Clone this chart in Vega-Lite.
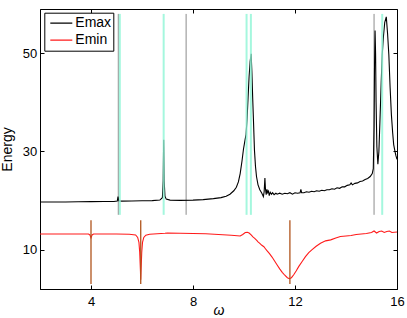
{
  "$schema": "https://vega.github.io/schema/vega-lite/v6.json",
  "width": 357,
  "height": 280,
  "autosize": {"type": "none"},
  "padding": {"left": 40, "top": 9, "right": 10, "bottom": 29},
  "background": "white",
  "config": {
    "font": "Liberation Sans",
    "view": {"stroke": "black", "strokeWidth": 1},
    "axis": {
      "grid": false,
      "domainColor": "black",
      "tickColor": "black",
      "labelColor": "black",
      "titleColor": "black",
      "labelFont": "Liberation Sans",
      "titleFont": "Liberation Sans",
      "labelFontSize": 13,
      "titleFontSize": 14,
      "titleFontWeight": "normal",
      "tickSize": -4,
      "domainWidth": 1,
      "tickWidth": 1
    },
    "legend": {
      "labelFont": "Liberation Sans",
      "labelFontSize": 14,
      "labelColor": "black"
    }
  },
  "datasets": {
    "curves": [
      {"w": 2.0, "E": 19.7, "series": "Emax"},
      {"w": 2.5, "E": 19.7, "series": "Emax"},
      {"w": 3.0, "E": 19.72, "series": "Emax"},
      {"w": 3.5, "E": 19.75, "series": "Emax"},
      {"w": 4.0, "E": 19.78, "series": "Emax"},
      {"w": 4.5, "E": 19.8, "series": "Emax"},
      {"w": 4.9, "E": 19.82, "series": "Emax"},
      {"w": 5.03, "E": 19.9, "series": "Emax"},
      {"w": 5.06, "E": 20.8, "series": "Emax"},
      {"w": 5.09, "E": 19.95, "series": "Emax"},
      {"w": 5.2, "E": 19.88, "series": "Emax"},
      {"w": 5.6, "E": 19.9, "series": "Emax"},
      {"w": 6.0, "E": 19.95, "series": "Emax"},
      {"w": 6.4, "E": 20.0, "series": "Emax"},
      {"w": 6.7, "E": 20.1, "series": "Emax"},
      {"w": 6.8, "E": 20.6, "series": "Emax"},
      {"w": 6.83, "E": 24.0, "series": "Emax"},
      {"w": 6.85, "E": 32.4, "series": "Emax"},
      {"w": 6.87, "E": 24.0, "series": "Emax"},
      {"w": 6.9, "E": 20.9, "series": "Emax"},
      {"w": 6.95, "E": 20.3, "series": "Emax"},
      {"w": 7.1, "E": 20.1, "series": "Emax"},
      {"w": 7.5, "E": 20.05, "series": "Emax"},
      {"w": 8.0, "E": 20.1, "series": "Emax"},
      {"w": 8.4, "E": 20.2, "series": "Emax"},
      {"w": 8.8, "E": 20.4, "series": "Emax"},
      {"w": 9.1, "E": 20.6, "series": "Emax"},
      {"w": 9.3, "E": 20.9, "series": "Emax"},
      {"w": 9.45, "E": 21.3, "series": "Emax"},
      {"w": 9.6, "E": 22.0, "series": "Emax"},
      {"w": 9.7, "E": 22.7, "series": "Emax"},
      {"w": 9.78, "E": 23.8, "series": "Emax"},
      {"w": 9.85, "E": 25.5, "series": "Emax"},
      {"w": 9.92, "E": 28.0, "series": "Emax"},
      {"w": 9.98, "E": 30.5, "series": "Emax"},
      {"w": 10.04, "E": 32.3, "series": "Emax"},
      {"w": 10.08, "E": 33.5, "series": "Emax"},
      {"w": 10.12, "E": 36.5, "series": "Emax"},
      {"w": 10.16, "E": 41.0, "series": "Emax"},
      {"w": 10.2, "E": 45.2, "series": "Emax"},
      {"w": 10.24, "E": 48.3, "series": "Emax"},
      {"w": 10.28, "E": 49.9, "series": "Emax"},
      {"w": 10.31, "E": 46.0, "series": "Emax"},
      {"w": 10.34, "E": 41.0, "series": "Emax"},
      {"w": 10.37, "E": 36.5, "series": "Emax"},
      {"w": 10.41, "E": 30.3, "series": "Emax"},
      {"w": 10.45, "E": 27.0, "series": "Emax"},
      {"w": 10.49, "E": 24.9, "series": "Emax"},
      {"w": 10.55, "E": 23.2, "series": "Emax"},
      {"w": 10.62, "E": 22.2, "series": "Emax"},
      {"w": 10.7, "E": 21.5, "series": "Emax"},
      {"w": 10.76, "E": 20.8, "series": "Emax"},
      {"w": 10.79, "E": 21.8, "series": "Emax"},
      {"w": 10.82, "E": 24.6, "series": "Emax"},
      {"w": 10.84, "E": 22.5, "series": "Emax"},
      {"w": 10.87, "E": 21.2, "series": "Emax"},
      {"w": 10.9, "E": 22.3, "series": "Emax"},
      {"w": 10.93, "E": 21.6, "series": "Emax"},
      {"w": 10.96, "E": 21.9, "series": "Emax"},
      {"w": 10.99, "E": 21.0, "series": "Emax"},
      {"w": 11.03, "E": 21.7, "series": "Emax"},
      {"w": 11.08, "E": 21.3, "series": "Emax"},
      {"w": 11.12, "E": 21.6, "series": "Emax"},
      {"w": 11.18, "E": 21.2, "series": "Emax"},
      {"w": 11.25, "E": 21.5, "series": "Emax"},
      {"w": 11.3, "E": 21.3, "series": "Emax"},
      {"w": 11.4, "E": 21.5, "series": "Emax"},
      {"w": 11.5, "E": 21.3, "series": "Emax"},
      {"w": 11.6, "E": 21.5, "series": "Emax"},
      {"w": 11.7, "E": 21.4, "series": "Emax"},
      {"w": 11.8, "E": 21.6, "series": "Emax"},
      {"w": 11.9, "E": 21.3, "series": "Emax"},
      {"w": 12.0, "E": 21.6, "series": "Emax"},
      {"w": 12.1, "E": 21.5, "series": "Emax"},
      {"w": 12.2, "E": 21.6, "series": "Emax"},
      {"w": 12.23, "E": 22.3, "series": "Emax"},
      {"w": 12.26, "E": 21.6, "series": "Emax"},
      {"w": 12.35, "E": 21.6, "series": "Emax"},
      {"w": 12.45, "E": 21.8, "series": "Emax"},
      {"w": 12.55, "E": 21.7, "series": "Emax"},
      {"w": 12.65, "E": 21.9, "series": "Emax"},
      {"w": 12.75, "E": 21.8, "series": "Emax"},
      {"w": 12.85, "E": 22.0, "series": "Emax"},
      {"w": 12.95, "E": 21.9, "series": "Emax"},
      {"w": 13.05, "E": 22.1, "series": "Emax"},
      {"w": 13.15, "E": 22.0, "series": "Emax"},
      {"w": 13.25, "E": 22.2, "series": "Emax"},
      {"w": 13.35, "E": 22.2, "series": "Emax"},
      {"w": 13.45, "E": 22.4, "series": "Emax"},
      {"w": 13.55, "E": 22.3, "series": "Emax"},
      {"w": 13.65, "E": 22.6, "series": "Emax"},
      {"w": 13.75, "E": 22.5, "series": "Emax"},
      {"w": 13.85, "E": 22.8, "series": "Emax"},
      {"w": 13.95, "E": 22.8, "series": "Emax"},
      {"w": 14.05, "E": 23.1, "series": "Emax"},
      {"w": 14.15, "E": 23.2, "series": "Emax"},
      {"w": 14.2, "E": 23.6, "series": "Emax"},
      {"w": 14.25, "E": 23.2, "series": "Emax"},
      {"w": 14.35, "E": 23.5, "series": "Emax"},
      {"w": 14.45, "E": 23.6, "series": "Emax"},
      {"w": 14.55, "E": 23.9, "series": "Emax"},
      {"w": 14.65, "E": 24.0, "series": "Emax"},
      {"w": 14.75, "E": 24.3, "series": "Emax"},
      {"w": 14.85, "E": 24.5, "series": "Emax"},
      {"w": 14.95, "E": 24.9, "series": "Emax"},
      {"w": 15.03, "E": 25.5, "series": "Emax"},
      {"w": 15.07, "E": 26.5, "series": "Emax"},
      {"w": 15.1, "E": 35.0, "series": "Emax"},
      {"w": 15.12, "E": 48.0, "series": "Emax"},
      {"w": 15.14, "E": 54.6, "series": "Emax"},
      {"w": 15.16, "E": 50.0, "series": "Emax"},
      {"w": 15.18, "E": 40.0, "series": "Emax"},
      {"w": 15.21, "E": 31.0, "series": "Emax"},
      {"w": 15.25, "E": 27.4, "series": "Emax"},
      {"w": 15.29, "E": 30.0, "series": "Emax"},
      {"w": 15.33, "E": 36.0, "series": "Emax"},
      {"w": 15.38, "E": 44.0, "series": "Emax"},
      {"w": 15.42, "E": 49.7, "series": "Emax"},
      {"w": 15.47, "E": 53.5, "series": "Emax"},
      {"w": 15.52, "E": 56.3, "series": "Emax"},
      {"w": 15.58, "E": 57.4, "series": "Emax"},
      {"w": 15.63, "E": 54.0, "series": "Emax"},
      {"w": 15.68, "E": 49.7, "series": "Emax"},
      {"w": 15.73, "E": 43.0, "series": "Emax"},
      {"w": 15.78, "E": 37.5, "series": "Emax"},
      {"w": 15.83, "E": 33.8, "series": "Emax"},
      {"w": 15.87, "E": 31.4, "series": "Emax"},
      {"w": 15.92, "E": 30.0, "series": "Emax"},
      {"w": 15.96, "E": 29.1, "series": "Emax"},
      {"w": 16.0, "E": 28.4, "series": "Emax"},
      {"w": 2.0, "E": 13.2, "series": "Emin"},
      {"w": 3.0, "E": 13.2, "series": "Emin"},
      {"w": 3.9, "E": 13.2, "series": "Emin"},
      {"w": 3.96, "E": 13.0, "series": "Emin"},
      {"w": 4.0, "E": 12.4, "series": "Emin"},
      {"w": 4.04, "E": 13.0, "series": "Emin"},
      {"w": 4.1, "E": 13.2, "series": "Emin"},
      {"w": 5.0, "E": 13.2, "series": "Emin"},
      {"w": 5.5, "E": 13.15, "series": "Emin"},
      {"w": 5.75, "E": 13.0, "series": "Emin"},
      {"w": 5.83, "E": 12.5, "series": "Emin"},
      {"w": 5.88, "E": 11.5, "series": "Emin"},
      {"w": 5.91, "E": 9.5, "series": "Emin"},
      {"w": 5.94, "E": 5.5, "series": "Emin"},
      {"w": 5.95, "E": 3.9, "series": "Emin"},
      {"w": 5.96, "E": 5.5, "series": "Emin"},
      {"w": 5.99, "E": 9.5, "series": "Emin"},
      {"w": 6.02, "E": 11.5, "series": "Emin"},
      {"w": 6.07, "E": 12.5, "series": "Emin"},
      {"w": 6.15, "E": 12.95, "series": "Emin"},
      {"w": 6.3, "E": 13.15, "series": "Emin"},
      {"w": 6.6, "E": 13.25, "series": "Emin"},
      {"w": 6.9, "E": 13.35, "series": "Emin"},
      {"w": 7.0, "E": 13.4, "series": "Emin"},
      {"w": 7.5, "E": 13.35, "series": "Emin"},
      {"w": 8.0, "E": 13.3, "series": "Emin"},
      {"w": 8.5, "E": 13.25, "series": "Emin"},
      {"w": 9.0, "E": 13.1, "series": "Emin"},
      {"w": 9.5, "E": 12.95, "series": "Emin"},
      {"w": 9.85, "E": 12.8, "series": "Emin"},
      {"w": 9.95, "E": 13.1, "series": "Emin"},
      {"w": 10.05, "E": 13.5, "series": "Emin"},
      {"w": 10.13, "E": 13.55, "series": "Emin"},
      {"w": 10.2, "E": 13.4, "series": "Emin"},
      {"w": 10.28, "E": 13.0, "series": "Emin"},
      {"w": 10.35, "E": 12.6, "series": "Emin"},
      {"w": 10.42, "E": 12.3, "series": "Emin"},
      {"w": 10.5, "E": 11.9, "series": "Emin"},
      {"w": 10.55, "E": 11.6, "series": "Emin"},
      {"w": 10.62, "E": 11.3, "series": "Emin"},
      {"w": 10.7, "E": 10.9, "series": "Emin"},
      {"w": 10.78, "E": 10.6, "series": "Emin"},
      {"w": 10.84, "E": 10.2, "series": "Emin"},
      {"w": 10.9, "E": 9.8, "series": "Emin"},
      {"w": 11.0, "E": 9.2, "series": "Emin"},
      {"w": 11.1, "E": 8.5, "series": "Emin"},
      {"w": 11.2, "E": 7.7, "series": "Emin"},
      {"w": 11.3, "E": 6.9, "series": "Emin"},
      {"w": 11.4, "E": 6.1, "series": "Emin"},
      {"w": 11.5, "E": 5.4, "series": "Emin"},
      {"w": 11.6, "E": 4.8, "series": "Emin"},
      {"w": 11.7, "E": 4.3, "series": "Emin"},
      {"w": 11.78, "E": 4.1, "series": "Emin"},
      {"w": 11.86, "E": 4.3, "series": "Emin"},
      {"w": 11.95, "E": 4.9, "series": "Emin"},
      {"w": 12.05, "E": 5.7, "series": "Emin"},
      {"w": 12.15, "E": 6.6, "series": "Emin"},
      {"w": 12.28, "E": 7.6, "series": "Emin"},
      {"w": 12.41, "E": 8.6, "series": "Emin"},
      {"w": 12.54, "E": 9.4, "series": "Emin"},
      {"w": 12.67, "E": 10.0, "series": "Emin"},
      {"w": 12.83, "E": 10.7, "series": "Emin"},
      {"w": 13.0, "E": 11.3, "series": "Emin"},
      {"w": 13.2, "E": 11.8, "series": "Emin"},
      {"w": 13.4, "E": 12.0, "series": "Emin"},
      {"w": 13.6, "E": 12.4, "series": "Emin"},
      {"w": 13.78, "E": 12.7, "series": "Emin"},
      {"w": 14.0, "E": 12.8, "series": "Emin"},
      {"w": 14.2, "E": 12.9, "series": "Emin"},
      {"w": 14.4, "E": 13.1, "series": "Emin"},
      {"w": 14.6, "E": 13.2, "series": "Emin"},
      {"w": 14.8, "E": 13.3, "series": "Emin"},
      {"w": 15.0, "E": 13.5, "series": "Emin"},
      {"w": 15.1, "E": 13.8, "series": "Emin"},
      {"w": 15.2, "E": 13.4, "series": "Emin"},
      {"w": 15.3, "E": 13.7, "series": "Emin"},
      {"w": 15.4, "E": 13.8, "series": "Emin"},
      {"w": 15.5, "E": 13.5, "series": "Emin"},
      {"w": 15.6, "E": 13.7, "series": "Emin"},
      {"w": 15.7, "E": 13.8, "series": "Emin"},
      {"w": 15.8, "E": 13.5, "series": "Emin"},
      {"w": 16.0, "E": 13.6, "series": "Emin"}
    ],
    "grayLines": [
      {"x": 5.07, "y1": 17.1, "y2": 58.0},
      {"x": 7.73, "y1": 17.1, "y2": 58.0},
      {"x": 15.1, "y1": 17.1, "y2": 58.0}
    ],
    "cyanLines": [
      {"x": 5.13, "y1": 17.1, "y2": 58.0},
      {"x": 6.85, "y1": 17.1, "y2": 58.0},
      {"x": 10.1, "y1": 17.1, "y2": 58.0},
      {"x": 10.27, "y1": 17.1, "y2": 58.0},
      {"x": 15.42, "y1": 17.1, "y2": 58.0}
    ],
    "brownLines": [
      {"x": 4.0, "y1": 3.0, "y2": 16.0},
      {"x": 5.95, "y1": 3.0, "y2": 16.0},
      {"x": 11.8, "y1": 3.0, "y2": 16.0}
    ]
  },
  "resolve": {"axis": {"x": "independent", "y": "independent"}},
  "layer": [
    {
      "data": {"name": "grayLines"},
      "mark": {"type": "rule", "color": "#8c8c8c", "strokeWidth": 1},
      "encoding": {
        "x": {"field": "x", "type": "quantitative", "scale": {"domain": [2, 16], "nice": false},
          "axis": {"orient": "bottom", "values": [4, 8, 12, 16], "title": "ω", "titleFontStyle": "italic", "labelPadding": 10.5, "titleY": 25.5, "titleBaseline": "alphabetic", "labelFlush": false}},
        "y": {"field": "y1", "type": "quantitative", "scale": {"domain": [2, 59], "nice": false, "zero": false},
          "axis": {"orient": "left", "values": [10, 30, 50], "title": "Energy", "labelPadding": 7.3, "titlePadding": 8}},
        "y2": {"field": "y2"}
      }
    },
    {
      "data": {"name": "curves"},
      "mark": {"type": "line", "strokeWidth": 1.1},
      "encoding": {
        "x": {"field": "w", "type": "quantitative",
          "axis": {"orient": "top", "values": [4, 8, 12, 16], "labels": false, "title": null, "domain": false}},
        "y": {"field": "E", "type": "quantitative",
          "axis": {"orient": "right", "values": [10, 30, 50], "labels": false, "title": null, "domain": false}},
        "color": {"field": "series", "type": "nominal",
          "scale": {"domain": ["Emax", "Emin"], "range": ["black", "#ff1a1a"]},
          "legend": {"title": null, "orient": "none", "legendX": 4.3, "legendY": 3.7,
            "symbolType": "stroke", "symbolSize": 484, "symbolStrokeWidth": 1.3,
            "clipHeight": 17, "rowPadding": 0, "padding": 2, "symbolOffset": 3, "labelOffset": 2,
            "strokeColor": "black", "fillColor": "white", "cornerRadius": 0}},
        "order": {"field": "w", "type": "quantitative"}
      }
    },
    {
      "data": {"name": "cyanLines"},
      "mark": {"type": "rule", "color": "#8ff5d6", "strokeWidth": 2, "opacity": 0.8},
      "encoding": {
        "x": {"field": "x", "type": "quantitative", "axis": null},
        "y": {"field": "y1", "type": "quantitative", "axis": null},
        "y2": {"field": "y2"}
      }
    },
    {
      "data": {"name": "brownLines"},
      "mark": {"type": "rule", "color": "#b0541c", "strokeWidth": 1.3},
      "encoding": {
        "x": {"field": "x", "type": "quantitative", "axis": null},
        "y": {"field": "y1", "type": "quantitative", "axis": null},
        "y2": {"field": "y2"}
      }
    }
  ]
}
